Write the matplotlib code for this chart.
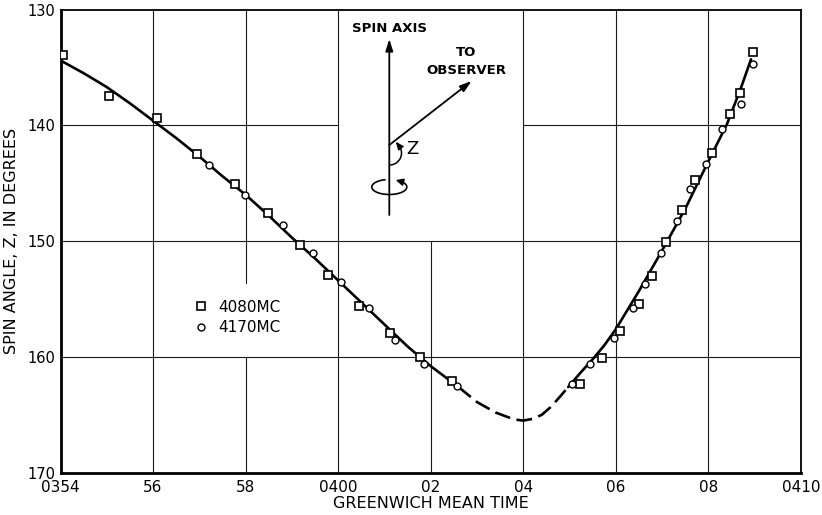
import numpy as np
import matplotlib
matplotlib.use("Agg")
import matplotlib.pyplot as plt

plt.rcParams['font.family'] = ['DejaVu Sans']

# ---------------- data (minutes after 03:54 GMT, spin angle in degrees) -------------
sq_t = [0.06, 1.05, 2.08, 2.95, 3.76, 4.48, 5.18, 5.79, 6.46, 7.12, 7.76, 8.45,
        11.23, 11.71, 12.09, 12.50, 12.79, 13.08, 13.43, 13.71, 14.07, 14.47, 14.68, 14.97]
sq_z = [133.9, 137.5, 139.4, 142.5, 145.1, 147.6, 150.3, 152.9, 155.6, 157.9, 160.0, 162.1,
        162.3, 160.1, 157.8, 155.4, 153.0, 150.1, 147.3, 144.7, 142.4, 139.0, 137.2, 133.7]

ci_t = [3.21, 3.98, 4.80, 5.46, 6.06, 6.66, 7.23, 7.86, 8.57,
        11.06, 11.44, 11.95, 12.38, 12.64, 12.97, 13.31, 13.60, 13.95, 14.29, 14.70, 14.97]
ci_z = [143.4, 146.0, 148.6, 151.0, 153.5, 155.8, 158.5, 160.6, 162.5,
        162.3, 160.6, 158.4, 155.8, 153.7, 151.0, 148.3, 145.5, 143.3, 140.3, 138.2, 134.7]

# fitted curve: solid, dashed (extrapolated), solid
fit_a_t = [0.0, 0.5, 1.0, 1.5, 2.0, 2.5, 3.0, 3.5, 4.0, 4.5, 5.0, 5.5, 6.0, 6.5, 7.0, 7.5, 8.0, 8.6]
fit_a_z = [134.4, 135.5, 136.7, 138.1, 139.6, 141.1, 142.7, 144.4, 146.0, 147.8, 149.7, 151.5,
           153.4, 155.3, 157.2, 159.1, 160.8, 162.6]
fit_b_t = [8.6, 9.0, 9.4, 9.8, 10.0, 10.2, 10.4, 10.6, 10.8, 10.97]
fit_b_z = [162.6, 163.9, 164.8, 165.4, 165.5, 165.35, 165.0, 164.3, 163.4, 162.6]
fit_c_t = [10.97, 11.25, 11.5, 11.75, 12.0, 12.5, 13.0, 13.5, 14.0, 14.4, 14.7, 14.92]
fit_c_z = [162.6, 161.3, 160.2, 159.0, 157.6, 154.3, 150.8, 147.2, 143.1, 139.9, 136.8, 134.3]

x_ticks = [0, 2, 4, 6, 8, 10, 12, 14, 16]
x_labels = ["0354", "56", "58", "0400", "02", "04", "06", "08", "0410"]
y_ticks = [130, 140, 150, 160, 170]
y_labels = ["130", "140", "150", "160", "170"]

W, H = 822, 515
fig = plt.figure(figsize=(W / 100, H / 100), dpi=100)
L, R, T, B = 60.5, 801, 9.5, 472.7
ax = fig.add_axes([L / W, 1 - B / H, (R - L) / W, (B - T) / H])
ax.set_xlim(0, 16)
ax.set_ylim(170, 130)

# grid (with gaps where the inset diagram and key sit)
gk = dict(color='#1a1a1a', lw=0.8, zorder=1)
vsegs = {2: [(130, 170)], 4: [(130, 153.6), (160, 170)], 6: [(130, 170)],
         8: [(150, 170)], 10: [(130, 170)], 12: [(130, 170)], 14: [(130, 170)]}
for xv, segs in vsegs.items():
    for a, b in segs:
        ax.plot([xv, xv], [a, b], **gk)
hsegs = {140: [(0, 6), (10, 16)], 150: [(0, 16)], 160: [(0, 16)]}
for yv, segs in hsegs.items():
    for a, b in segs:
        ax.plot([a, b], [yv, yv], **gk)

# fitted curve
ax.plot(fit_a_t, fit_a_z, color='black', lw=1.9, zorder=2, solid_capstyle='round')
ax.plot(fit_b_t, fit_b_z, color='black', lw=1.9, zorder=2, dashes=(6, 2.5))
ax.plot(fit_c_t, fit_c_z, color='black', lw=1.9, zorder=2, solid_capstyle='round')

# observations
h1, = ax.plot(sq_t, sq_z, linestyle='none', marker='s', ms=6.0, mfc='white', mec='black',
              mew=1.2, zorder=4, label='4080MC')
h2, = ax.plot(ci_t, ci_z, linestyle='none', marker='o', ms=5.0, mfc='white', mec='black',
              mew=1.0, zorder=4, label='4170MC')

ax.set_xticks(x_ticks)
ax.set_xticklabels(x_labels, fontsize=11)
ax.set_yticks(y_ticks)
ax.set_yticklabels(y_labels, fontsize=10.5)
ax.tick_params(length=0, pad=5)
ax.tick_params(axis='y', pad=4)
for s in ['left', 'bottom']:
    ax.spines[s].set_linewidth(2.0)
for s in ['top', 'right']:
    ax.spines[s].set_linewidth(1.3)

ax.set_xlabel("GREENWICH MEAN TIME", fontsize=11.5, labelpad=1)
ax.set_ylabel("SPIN ANGLE, Z, IN DEGREES", fontsize=11.5, labelpad=6)

leg = ax.legend(handles=[h1, h2], loc='center left',
                bbox_to_anchor=(193 / W, 1 - 317.5 / H), bbox_transform=fig.transFigure,
                frameon=False, fontsize=11, handlelength=1.0, handletextpad=0.65,
                borderpad=0, borderaxespad=0, labelspacing=0.35, markerscale=1.0)

# ---------------- inset diagram (figure pixel coordinates) ----------------
ov = fig.add_axes([0, 0, 1, 1])
ov.set_xlim(0, W)
ov.set_ylim(H, 0)
ov.axis('off')

ak = dict(arrowstyle='-|>,head_length=0.7,head_width=0.22', color='black', lw=1.3,
          shrinkA=0, shrinkB=0)
ov.annotate('', xy=(389.3, 39), xytext=(389.3, 215), arrowprops=ak)
ov.annotate('', xy=(471.7, 81), xytext=(389.3, 145), arrowprops=ak)
ov.text(389, 29, "SPIN AXIS", ha='center', va='center', fontsize=9.5, fontweight='bold')
ov.text(466, 53, "TO", ha='center', va='center', fontsize=9.5, fontweight='bold')
ov.text(466, 71, "OBSERVER", ha='center', va='center', fontsize=9.5, fontweight='bold')
ov.text(406, 148.5, "Z", ha='left', va='center', fontsize=13)

# angle arc
cx, cy, r = 389.5, 153.0, 12.0
th = np.radians(np.linspace(-90, 50, 40))
ax_x = cx + r * np.cos(th)
ax_y = cy - r * np.sin(th)
ov.plot(ax_x, ax_y, color='black', lw=1.1)
ov.annotate('', xy=(ax_x[-1] - 1.2, ax_y[-1] - 2.0), xytext=(ax_x[-3], ax_y[-3]),
            arrowprops=dict(arrowstyle='-|>,head_length=0.45,head_width=0.2', color='black',
                            lw=1.0, shrinkA=0, shrinkB=0))

# rotation ellipse
ex, ey, ea, eb = 389.3, 187.0, 17.5, 7.5
th = np.radians(np.linspace(105, 415, 80))
el_x = ex + ea * np.cos(th)
el_y = ey - eb * np.sin(th)
ov.plot(el_x, el_y, color='black', lw=1.2)
ov.annotate('', xy=(el_x[-1] - 3.5, el_y[-1] - 0.8), xytext=(el_x[-4], el_y[-4]),
            arrowprops=dict(arrowstyle='-|>,head_length=0.45,head_width=0.22', color='black',
                            lw=1.0, shrinkA=0, shrinkB=0))

fig.savefig("out.png", dpi=100)
